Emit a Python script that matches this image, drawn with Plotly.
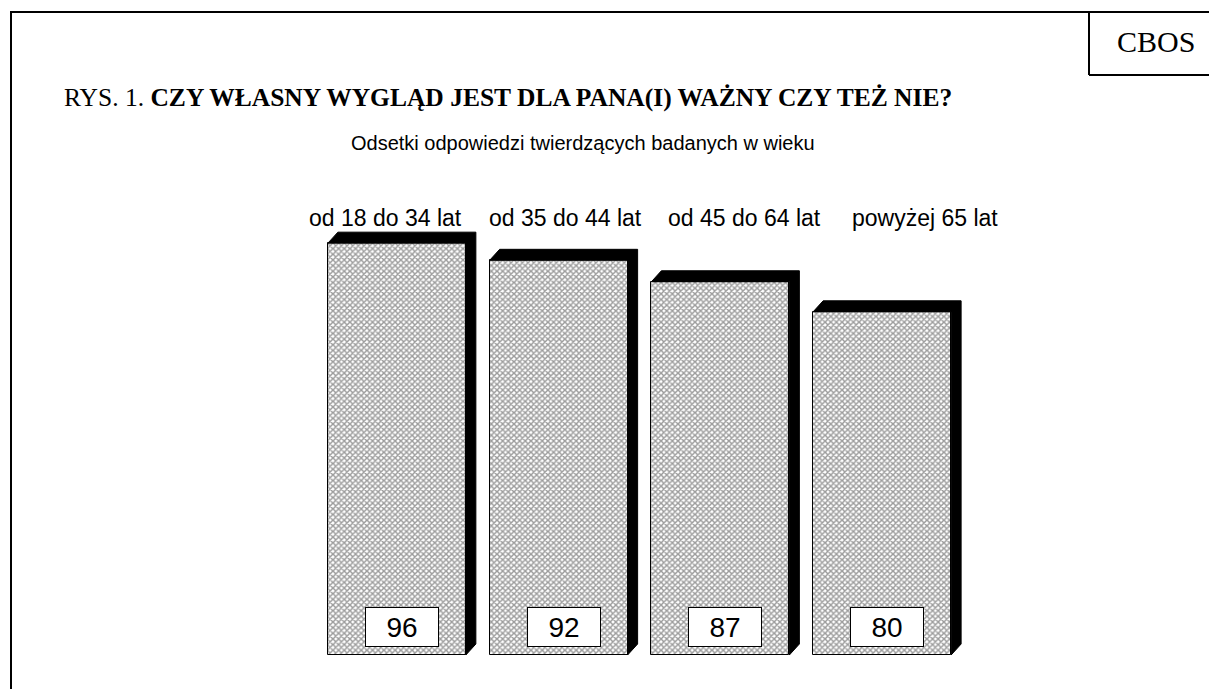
import plotly.graph_objects as go

# data
groups = ["od 18 do 34 lat", "od 35 do 44 lat", "od 45 do 64 lat", "powyżej 65 lat"]
values = [96, 92, 87, 80]
positions = [0, 1, 2, 3]

W, H = 1209, 689
L, R, T, B = 316, 246, 226, 34
pw = W - L - R
ph = H - T - B


def px(x):
    return (x - L) / pw


def py(y):
    return (H - B - y) / ph


bar_w = 0.853
dx = 10 / (pw / 4)      # depth in x units
dy = 11 / (ph / 100)    # depth in y units

fig = go.Figure()

# black "3D" depth behind each bar
for p, v in zip(positions, values):
    a, b = p - bar_w / 2, p + bar_w / 2
    fig.add_trace(go.Scatter(
        x=[a, a + dx, b + dx, b + dx, b, b, a],
        y=[v, v + dy, v + dy, dy, 0, v, v],
        fill='toself', fillcolor='black',
        mode='lines', line=dict(color='black', width=1),
        hoverinfo='skip', showlegend=False,
    ))

fig.add_trace(go.Bar(
    x=positions, y=values, width=bar_w,
    marker=dict(
        color='white',
        line=dict(color='black', width=1),
        pattern=dict(shape='x', size=4, solidity=0.6, fgcolor='#3a3a3a', bgcolor='white'),
    ),
    hoverinfo='skip', showlegend=False,
))

annotations = []
for p, v in zip(positions, values):
    annotations.append(dict(
        x=p, y=0, xref='x', yref='y', yanchor='bottom', yshift=8, xshift=5,
        text=str(v), showarrow=False,
        font=dict(family='Liberation Sans, Arial', size=28, color='black'),
        bgcolor='white', bordercolor='black', borderwidth=1,
        width=72, height=38, borderpad=0,
    ))

label_x = [385, 565, 744, 925]
for g, lx in zip(groups, label_x):
    annotations.append(dict(
        x=px(lx), y=py(218), xref='paper', yref='paper',
        text=g, showarrow=False, xanchor='center', yanchor='middle',
        font=dict(family='Liberation Sans, Arial', size=23, color='black'),
    ))

annotations += [
    dict(x=px(62), y=py(98), xref='paper', yref='paper', xanchor='left', yanchor='middle',
         text='RYS. 1. <b>CZY WŁASNY WYGLĄD JEST DLA PANA(I) WAŻNY CZY TEŻ NIE?</b>',
         showarrow=False, font=dict(family='Liberation Serif, Times New Roman', size=25.5, color='black')),
    dict(x=px(583), y=py(143), xref='paper', yref='paper', xanchor='center', yanchor='middle',
         text='Odsetki odpowiedzi twierdzących badanych w wieku',
         showarrow=False, font=dict(family='Liberation Sans, Arial', size=20, color='black')),
    dict(x=px(1156), y=py(41), xref='paper', yref='paper', xanchor='center', yanchor='middle',
         text='CBOS', showarrow=False,
         font=dict(family='Liberation Serif, Times New Roman', size=30, color='black')),
]

line = dict(color='black', width=2)
shapes = [
    dict(type='line', xref='paper', yref='paper', x0=px(11), x1=px(11), y0=py(12), y1=py(H + 5), line=line),
    dict(type='line', xref='paper', yref='paper', x0=px(10), x1=px(W + 5), y0=py(12), y1=py(12), line=line),
    dict(type='line', xref='paper', yref='paper', x0=px(1089), x1=px(1089), y0=py(12), y1=py(75), line=line),
    dict(type='line', xref='paper', yref='paper', x0=px(1089), x1=px(W + 5), y0=py(75), y1=py(75), line=line),
]

fig.update_layout(
    width=W, height=H,
    margin=dict(l=L, r=R, t=T, b=B),
    paper_bgcolor='white', plot_bgcolor='white',
    xaxis=dict(range=[-0.5, 3.5], visible=False, fixedrange=True),
    yaxis=dict(range=[0, 100], visible=False, fixedrange=True),
    annotations=annotations, shapes=shapes,
    bargap=0, showlegend=False,
)

fig.write_html("out.html", config={"displayModeBar": False},
               post_script="document.body.style.margin='0';")
